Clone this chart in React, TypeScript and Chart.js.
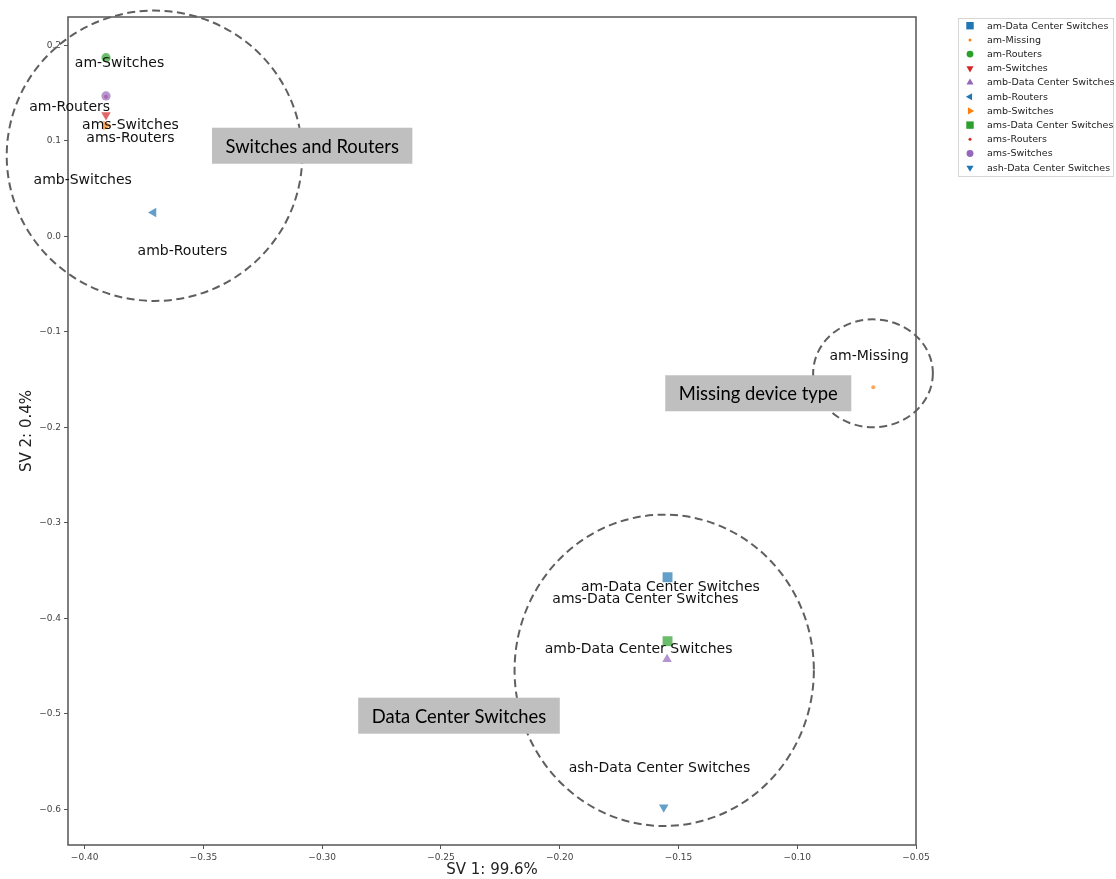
import React, { useEffect, useRef } from 'react';
import { Chart, registerables } from 'chart.js';

Chart.register(...registerables);

// ---- data ----
const seriesNames = [
  'am-Data Center Switches',
  'am-Missing',
  'am-Routers',
  'am-Switches',
  'amb-Data Center Switches',
  'amb-Routers',
  'amb-Switches',
  'ams-Data Center Switches',
  'ams-Routers',
  'ams-Switches',
  'ash-Data Center Switches',
];
const sv1Values = [-0.1546, -0.068, -0.391, -0.391, -0.1548, -0.371, -0.391, -0.1546, -0.391, -0.391, -0.1562];
const sv2Values = [-0.357, -0.158, 0.187, 0.127, -0.443, 0.025, 0.116, -0.424, 0.146, 0.147, -0.598];

const xTickStep = 0.05;
const yTickStep = 0.1;
const xRange = [-0.407, -0.05];
const yRange = [-0.6374, 0.2296];

// text labels beside the points (data coordinates)
const pointLabelX = [-0.1534, -0.0697, -0.4063, -0.3853, -0.1668, -0.3588, -0.4008, -0.1639, -0.3807, -0.3807, -0.158];
const pointLabelY = [-0.368, -0.1262, 0.1346, 0.1812, -0.4325, -0.0157, 0.0581, -0.3806, 0.1021, 0.1157, -0.5576];

// cluster annotations
const clusterNames = ['Switches and Routers', 'Missing device type', 'Data Center Switches'];
const clusterBoxX = [-0.3042, -0.1164, -0.2424];
const clusterBoxY = [0.0948, -0.1644, -0.502];
const ringX = [-0.3706, -0.0681, -0.156];
const ringY = [0.0843, -0.1435, -0.4545];
const ringRx = [0.0622, 0.0252, 0.063];
const ringRy = [0.152, 0.0565, 0.163];

// ---- styles ----
const palette = ['#1f77b4', '#ff7f0e', '#2ca02c', '#d62728', '#9467bd'];
const markerStyles = ['rect', 'circle', 'circle', 'triangle', 'triangle', 'triangle', 'triangle', 'rect', 'circle', 'circle', 'triangle'];
const markerRotations = [0, 0, 0, 180, 0, 270, 90, 0, 0, 0, 180];
const markerRadii = [7, 2, 4.6, 5.5, 5.5, 5.5, 5.5, 7, 2, 4.6, 5.5];

function hexA(hex: string, a: number) {
  const n = parseInt(hex.slice(1), 16);
  return `rgba(${(n >> 16) & 255},${(n >> 8) & 255},${n & 255},${a})`;
}

function fmt(v: number, d: number) {
  let n = Number(v);
  if (Math.abs(n) < 1e-9) n = 0;
  return n.toFixed(d).replace('-', '\u2212');
}

function drawMarker(ctx: CanvasRenderingContext2D, style: string, rot: number, x: number, y: number, r: number) {
  ctx.beginPath();
  if (style === 'rect') {
    const s = r * Math.SQRT1_2;
    ctx.rect(x - s, y - s, 2 * s, 2 * s);
  } else if (style === 'circle') {
    ctx.arc(x, y, r, 0, Math.PI * 2);
  } else {
    let a = (rot * Math.PI) / 180;
    ctx.moveTo(x + Math.sin(a) * r, y - Math.cos(a) * r);
    a += (2 * Math.PI) / 3;
    ctx.lineTo(x + Math.sin(a) * r, y - Math.cos(a) * r);
    a += (2 * Math.PI) / 3;
    ctx.lineTo(x + Math.sin(a) * r, y - Math.cos(a) * r);
    ctx.closePath();
  }
  ctx.fill();
}

const annotatePlugin = {
  id: 'annotate',
  afterDraw(chart: any) {
    const { ctx, chartArea: a } = chart;
    const xs = chart.scales.x;
    const ys = chart.scales.y;
    ctx.save();

    // frame
    ctx.strokeStyle = '#555';
    ctx.lineWidth = 1.5;
    ctx.strokeRect(a.left, a.top, a.right - a.left, a.bottom - a.top);

    // point labels
    ctx.fillStyle = '#111';
    ctx.font = '14px "DejaVu Sans"';
    ctx.textAlign = 'center';
    ctx.textBaseline = 'middle';
    seriesNames.forEach((name, i) => {
      ctx.fillText(name, xs.getPixelForValue(pointLabelX[i]), ys.getPixelForValue(pointLabelY[i]));
    });

    // dashed rings
    ctx.setLineDash([8, 4.5]);
    ctx.strokeStyle = '#5f5f5f';
    ctx.lineWidth = 2;
    ringX.forEach((cx, i) => {
      const px = xs.getPixelForValue(cx);
      const py = ys.getPixelForValue(ringY[i]);
      const rx = Math.abs(xs.getPixelForValue(cx + ringRx[i]) - px);
      const ry = Math.abs(ys.getPixelForValue(ringY[i] + ringRy[i]) - py);
      ctx.beginPath();
      ctx.ellipse(px, py, rx, ry, 0, 0, Math.PI * 2);
      ctx.stroke();
    });
    ctx.setLineDash([]);

    // grey boxes
    ctx.font = '18.4px Lato';
    clusterNames.forEach((name, i) => {
      const px = xs.getPixelForValue(clusterBoxX[i]);
      const py = ys.getPixelForValue(clusterBoxY[i]);
      const w = ctx.measureText(name).width + 27;
      const h = 36;
      ctx.fillStyle = '#bfbfbf';
      ctx.fillRect(px - w / 2, py - h / 2, w, h);
      ctx.fillStyle = '#000';
      ctx.fillText(name, px, py + 1);
    });

    // legend
    const lx = 958, ly = 18, lw = 156, lh = 159;
    ctx.fillStyle = '#fff';
    ctx.strokeStyle = '#d6d6d6';
    ctx.lineWidth = 1;
    ctx.fillRect(lx, ly, lw, lh);
    ctx.strokeRect(lx + 0.5, ly + 0.5, lw - 1, lh - 1);
    ctx.font = '9.5px "DejaVu Sans"';
    ctx.textAlign = 'left';
    seriesNames.forEach((name, i) => {
      const yy = 25.7 + i * 14.2;
      ctx.fillStyle = palette[i % palette.length];
      drawMarker(ctx, markerStyles[i], markerRotations[i], 970, yy, markerRadii[i] * 0.75);
      ctx.fillStyle = '#222';
      ctx.fillText(name, 987, yy + 0.5);
    });

    ctx.restore();
  },
};

export default function App() {
  const ref = useRef<HTMLCanvasElement>(null);

  useEffect(() => {
    const canvas = ref.current;
    if (!canvas) return;
    const n = seriesNames.length;
    const datasets = seriesNames.map((name, i) => ({
      label: name,
      data: [{ x: sv1Values[i], y: sv2Values[i] }],
      pointStyle: markerStyles[i],
      pointRotation: markerRotations[i],
      pointRadius: markerRadii[i],
      pointBackgroundColor: hexA(palette[i % palette.length], 0.7),
      pointBorderWidth: 0,
      backgroundColor: hexA(palette[i % palette.length], 0.7),
      order: n - 1 - i,
    }));

    const tickFont = { family: 'DejaVu Sans', size: 9 };
    const chart = new Chart(canvas, {
      type: 'scatter',
      data: { datasets },
      plugins: [annotatePlugin],
      options: {
        responsive: false,
        animation: false,
        events: [],
        layout: { padding: { top: 17, right: 200, left: 0, bottom: 0 } },
        plugins: { legend: { display: false }, tooltip: { enabled: false } },
        scales: {
          x: {
            type: 'linear',
            min: xRange[0],
            max: xRange[1],
            afterFit: (s: any) => { s.height = 34; },
            border: { display: false },
            grid: { drawOnChartArea: false, drawTicks: true, tickLength: 4, color: '#555' },
            ticks: {
              stepSize: xTickStep,
              includeBounds: false,
              padding: 3,
              maxRotation: 0,
              autoSkip: false,
              font: tickFont,
              color: '#444',
              callback: (v: any) => fmt(v, 2),
            },
            title: {
              display: true,
              text: 'SV 1: 99.6%',
              font: { family: 'DejaVu Sans', size: 15 },
              color: '#222',
              padding: { top: 0, bottom: 0 },
            },
          },
          y: {
            type: 'linear',
            min: yRange[0],
            max: yRange[1],
            afterFit: (s: any) => { s.width = 68; },
            border: { display: false },
            grid: { drawOnChartArea: false, drawTicks: true, tickLength: 4, color: '#555' },
            ticks: {
              stepSize: yTickStep,
              includeBounds: false,
              padding: 3,
              autoSkip: false,
              font: tickFont,
              color: '#444',
              callback: (v: any) => fmt(v, 1),
            },
            title: {
              display: true,
              text: 'SV 2: 0.4%',
              font: { family: 'DejaVu Sans', size: 15 },
              color: '#222',
              padding: { top: 18, bottom: 0 },
            },
          },
        },
      } as any,
    });
    return () => chart.destroy();
  }, []);

  return (
    <div style={{ position: 'absolute', left: 0, top: 0, width: 1116, height: 879, background: '#fff' }}>
      <canvas ref={ref} width={1116} height={879} style={{ width: 1116, height: 879, display: 'block' }} />
    </div>
  );
}
